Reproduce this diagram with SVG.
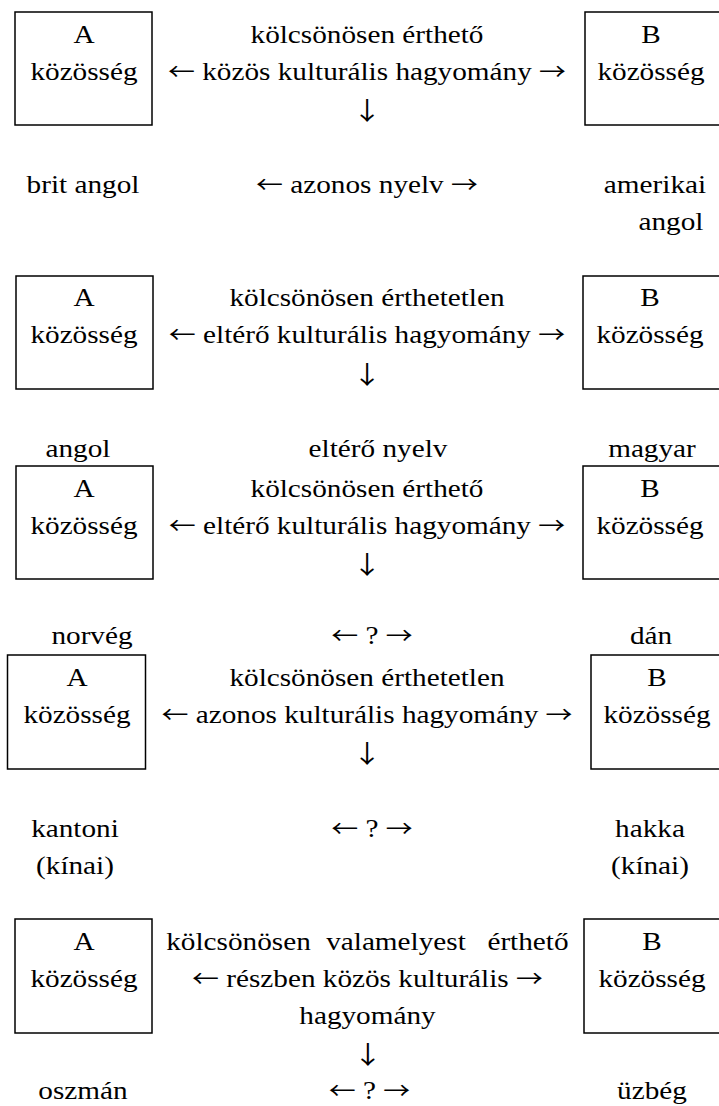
<svg xmlns="http://www.w3.org/2000/svg" width="719" height="1106" viewBox="0 0 719 1106">
<style>
text{font-family:"Liberation Serif","Times New Roman",serif;font-size:25px;fill:#000;text-anchor:middle}
.ar{font-family:"Noto Sans CJK JP","DejaVu Serif",sans-serif;font-size:23px}
.dn{font-family:"Noto Sans CJK JP","DejaVu Serif",sans-serif;font-size:25px}
.box{fill:#fff;stroke:#000;stroke-width:1.5}
</style>
<rect width="719" height="1106" fill="#fff"/>
<!-- Row 1 -->
<g id="r1-a"><rect class="box" x="15" y="12" width="137" height="113"/><g transform="scale(1.17 1)"><text x="71.79" y="43">A</text><text x="71.79" y="80">közösség</text></g></g>
<g id="r1-b"><rect class="box" x="585" y="12" width="140" height="113"/><g transform="scale(1.17 1)"><text x="556.41" y="43">B</text><text x="556.41" y="80">közösség</text></g></g>
<g id="r1-mid" transform="scale(1.17 1)"><text x="313.68" y="43">kölcsönösen érthető</text><text x="313.68" y="80"><tspan class="ar">←</tspan> közös kulturális hagyomány <tspan class="ar">→</tspan></text></g>
<g id="r1-lang" transform="scale(1.17 1)"><text x="70.94" y="193">brit angol</text><text x="313.68" y="193"><tspan class="ar">←</tspan> azonos nyelv <tspan class="ar">→</tspan></text><text x="559.83" y="193">amerikai</text><text x="573.50" y="230">angol</text></g>
<!-- Row 2 -->
<g id="r2-a"><rect class="box" x="16" y="276" width="137" height="113"/><g transform="scale(1.17 1)"><text x="71.79" y="306">A</text><text x="71.79" y="343">közösség</text></g></g>
<g id="r2-b"><rect class="box" x="583" y="276" width="142" height="113"/><g transform="scale(1.17 1)"><text x="555.56" y="306">B</text><text x="555.56" y="343">közösség</text></g></g>
<g id="r2-mid" transform="scale(1.17 1)"><text x="313.68" y="306">kölcsönösen érthetetlen</text><text x="313.68" y="343"><tspan class="ar">←</tspan> eltérő kulturális hagyomány <tspan class="ar">→</tspan></text></g>
<g id="r2-lang" transform="scale(1.17 1)"><text x="66.67" y="457">angol</text><text x="323.08" y="457">eltérő nyelv</text><text x="557.26" y="457">magyar</text></g>
<!-- Row 3 -->
<g id="r3-a"><rect class="box" x="16" y="466" width="137" height="113"/><g transform="scale(1.17 1)"><text x="71.79" y="497">A</text><text x="71.79" y="534">közösség</text></g></g>
<g id="r3-b"><rect class="box" x="583" y="466" width="142" height="113"/><g transform="scale(1.17 1)"><text x="555.56" y="497">B</text><text x="555.56" y="534">közösség</text></g></g>
<g id="r3-mid" transform="scale(1.17 1)"><text x="313.68" y="497">kölcsönösen érthető</text><text x="313.68" y="534"><tspan class="ar">←</tspan> eltérő kulturális hagyomány <tspan class="ar">→</tspan></text></g>
<g id="r3-lang" transform="scale(1.17 1)"><text x="78.63" y="644">norvég</text><text x="317.95" y="644"><tspan class="ar">←</tspan> ? <tspan class="ar">→</tspan></text><text x="556.41" y="644">dán</text></g>
<!-- Row 4 -->
<g id="r4-a"><rect class="box" x="7.5" y="655" width="138" height="114"/><g transform="scale(1.17 1)"><text x="65.81" y="686">A</text><text x="65.81" y="723">közösség</text></g></g>
<g id="r4-b"><rect class="box" x="591" y="655" width="134" height="114"/><g transform="scale(1.17 1)"><text x="561.54" y="686">B</text><text x="561.54" y="723">közösség</text></g></g>
<g id="r4-mid" transform="scale(1.17 1)"><text x="313.68" y="686">kölcsönösen érthetetlen</text><text x="313.68" y="723"><tspan class="ar">←</tspan> azonos kulturális hagyomány <tspan class="ar">→</tspan></text></g>
<g id="r4-lang" transform="scale(1.17 1)"><text x="64.10" y="837">kantoni</text><text x="64.10" y="874">(kínai)</text><text x="317.95" y="837"><tspan class="ar">←</tspan> ? <tspan class="ar">→</tspan></text><text x="555.56" y="837">hakka</text><text x="555.56" y="874">(kínai)</text></g>
<!-- Row 5 -->
<g id="r5-a"><rect class="box" x="15" y="919" width="137" height="114"/><g transform="scale(1.17 1)"><text x="71.79" y="950">A</text><text x="71.79" y="987">közösség</text></g></g>
<g id="r5-b"><rect class="box" x="584" y="919" width="141" height="114"/><g transform="scale(1.17 1)"><text x="557.26" y="950">B</text><text x="557.26" y="987">közösség</text></g></g>
<g id="r5-mid" transform="scale(1.17 1)"><text x="203.85" y="950">kölcsönösen</text><text x="338.46" y="950">valamelyest</text><text x="451.28" y="950">érthető</text><text x="314.10" y="987"><tspan class="ar">←</tspan> részben közös kulturális <tspan class="ar">→</tspan></text><text x="314.10" y="1024">hagyomány</text></g>
<g id="r5-lang" transform="scale(1.17 1)"><text x="70.94" y="1099">oszmán</text><text x="315.81" y="1099"><tspan class="ar">←</tspan> ? <tspan class="ar">→</tspan></text><text x="557.26" y="1099">üzbég</text></g>
<!-- Connectors (downward arrows) -->
<g id="connectors" transform="scale(1.17 1)">
<text class="dn" x="313.68" y="120">↓</text>
<text class="dn" x="313.68" y="384">↓</text>
<text class="dn" x="313.68" y="574">↓</text>
<text class="dn" x="313.68" y="763">↓</text>
<text class="dn" x="314.53" y="1064">↓</text>
</g>
</svg>
